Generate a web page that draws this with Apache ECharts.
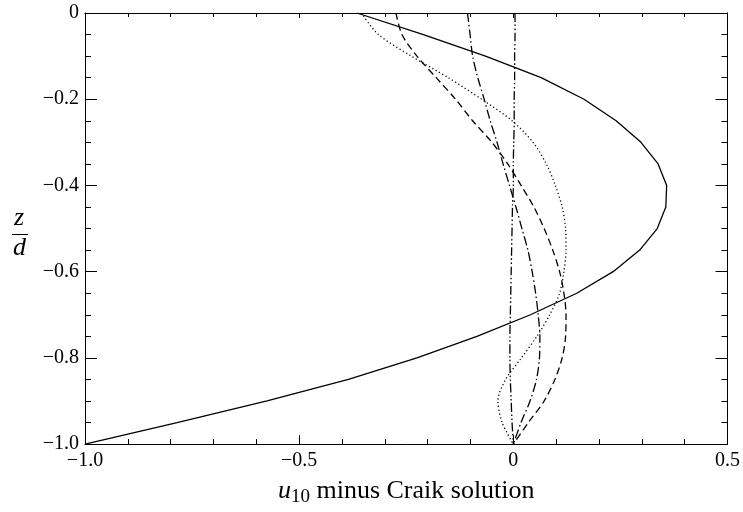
<!DOCTYPE html>
<html>
<head>
<meta charset="utf-8">
<script src="https://cdn.jsdelivr.net/npm/echarts@6/dist/echarts.min.js"></script>
<style>html,body{margin:0;padding:0;background:#fff;}#c{width:743px;height:512px;}</style>
</head>
<body>
<div id="c"></div>
<script>
// z/d levels (vertical coordinate)
const zLevels = [0, -0.05, -0.1, -0.15, -0.2, -0.25, -0.3, -0.35, -0.4, -0.45, -0.5,
                 -0.55, -0.6, -0.65, -0.7, -0.75, -0.8, -0.85, -0.9, -0.95, -1.0];
// u10 minus Craik solution, one array per curve
const solidX   = [-0.365, -0.21, -0.065, 0.065, 0.165, 0.24, 0.298, 0.338, 0.358, 0.356, 0.336,
                  0.295, 0.233, 0.148, 0.04, -0.085, -0.225, -0.385, -0.575, -0.785, -1.0];
const dottedX  = [-0.355, -0.315, -0.238, -0.152, -0.074, -0.003, 0.046, 0.077, 0.098, 0.114, 0.122,
                  0.123, 0.118, 0.108, 0.085, 0.055, 0.019, -0.018, -0.036, -0.026, 0.0];
const dashedX  = [-0.274, -0.26, -0.225, -0.18, -0.135, -0.095, -0.05, -0.013, 0.018, 0.048, 0.072,
                  0.092, 0.108, 0.118, 0.123, 0.122, 0.114, 0.097, 0.072, 0.035, 0.0];
const dashDotX = [-0.107, -0.101, -0.095, -0.083, -0.068, -0.054, -0.038, -0.024, -0.009, 0.006, 0.02,
                  0.034, 0.044, 0.052, 0.058, 0.062, 0.061, 0.054, 0.039, 0.018, 0.0];
const dashDotDotX = [0.004, 0.004, 0.003, 0.003, 0.002, 0.002, 0.001, 0.0, 0.0, -0.002, -0.003,
                  -0.004, -0.005, -0.006, -0.007, -0.008, -0.008, -0.007, -0.005, -0.003, 0.0];
// tick labels
const xTickValues = [-1.0, -0.5, 0, 0.5];
const xTickLabels = ['\u22121.0', '\u22120.5', '0', '0.5'];
const yTickValues = [0, -0.2, -0.4, -0.6, -0.8, -1.0];
const yTickLabels = ['0', '\u22120.2', '\u22120.4', '\u22120.6', '\u22120.8', '\u22121.0'];

function lookup(vals, labels, v) {
  for (let i = 0; i < vals.length; i++) if (Math.abs(vals[i] - v) < 1e-6) return labels[i];
  return '';
}
function pairs(xs) { return xs.map((x, i) => [x, zLevels[i]]); }

const FONT = '"Liberation Serif", "Times New Roman", serif';
const chart = echarts.init(document.getElementById('c'), null, {renderer: 'canvas'});
const axisCommon = {
  axisLine: {show: true, onZero: false, lineStyle: {color: '#000', width: 1}},
  splitLine: {show: false},
  axisTick: {show: true, inside: true, lineStyle: {color: '#000', width: 1}},
  minorTick: {show: true, lineStyle: {color: '#000', width: 1}}
};
function mkLine(name, xs, type, smooth) {
  return {
    name: name, type: 'line', data: pairs(xs), showSymbol: false, symbol: 'none',
    smooth: smooth, animation: false, silent: true,
    lineStyle: {color: '#000', width: 1.3, type: type}
  };
}
chart.setOption({
  animation: false,
  backgroundColor: '#fff',
  grid: {left: 85, right: 14, top: 13, bottom: 66},
  xAxis: [
    Object.assign({}, axisCommon, {
      type: 'value', position: 'bottom', min: -1, max: 0.5, interval: 0.5,
      axisTick: Object.assign({}, axisCommon.axisTick, {length: 9}),
      minorTick: Object.assign({}, axisCommon.minorTick, {splitNumber: 5, length: 5}),
      axisLabel: {color: '#000', fontFamily: FONT, fontSize: 20, margin: 7,
        formatter: v => lookup(xTickValues, xTickLabels, v)},
      name: '{i|u}{s|10}{t| minus Craik solution}',
      nameLocation: 'middle', nameGap: 32,
      nameTextStyle: {
        rich: {
          i: {fontFamily: FONT, fontStyle: 'italic', fontSize: 26, color: '#000', lineHeight: 30},
          s: {fontFamily: FONT, fontSize: 19, color: '#000', padding: [12, 0, 0, 0], lineHeight: 30},
          t: {fontFamily: FONT, fontSize: 26, color: '#000', lineHeight: 30}
        }
      }
    }),
    Object.assign({}, axisCommon, {
      type: 'value', position: 'top', min: -1, max: 0.5, interval: 0.5,
      axisTick: Object.assign({}, axisCommon.axisTick, {length: 5}),
      minorTick: Object.assign({}, axisCommon.minorTick, {splitNumber: 5, length: 4}),
      axisLabel: {show: false}
    })
  ],
  yAxis: [
    Object.assign({}, axisCommon, {
      type: 'value', position: 'left', min: -1, max: 0, interval: 0.2,
      axisTick: Object.assign({}, axisCommon.axisTick, {length: 12}),
      minorTick: Object.assign({}, axisCommon.minorTick, {splitNumber: 4, length: 6}),
      axisLabel: {color: '#000', fontFamily: FONT, fontSize: 20, margin: 6,
        formatter: v => lookup(yTickValues, yTickLabels, v)}
    }),
    Object.assign({}, axisCommon, {
      type: 'value', position: 'right', min: -1, max: 0, interval: 0.2,
      axisTick: Object.assign({}, axisCommon.axisTick, {length: 12}),
      minorTick: Object.assign({}, axisCommon.minorTick, {splitNumber: 4, length: 6}),
      axisLabel: {show: false}
    })
  ],
  graphic: [
    {type: 'text', left: 14, top: 205, style: {text: 'z', font: 'italic 26px ' + FONT, fill: '#000'}},
    {type: 'line', shape: {x1: 12, y1: 234.5, x2: 28, y2: 234.5}, style: {stroke: '#000', lineWidth: 1}},
    {type: 'text', left: 13, top: 235, style: {text: 'd', font: 'italic 26px ' + FONT, fill: '#000'}}
  ],
  series: [
    mkLine('solid', solidX, 'solid', false),
    mkLine('dotted', dottedX, [1.2, 2.6], 0.3),
    mkLine('dashed', dashedX, [7, 4], 0.3),
    mkLine('dashdot', dashDotX, [9, 3, 1.5, 3], 0.3),
    mkLine('dashdotdot', dashDotDotX, [9, 2.5, 1.5, 2.5, 1.5, 2.5], 0.3)
  ]
});
</script>
</body>
</html>
